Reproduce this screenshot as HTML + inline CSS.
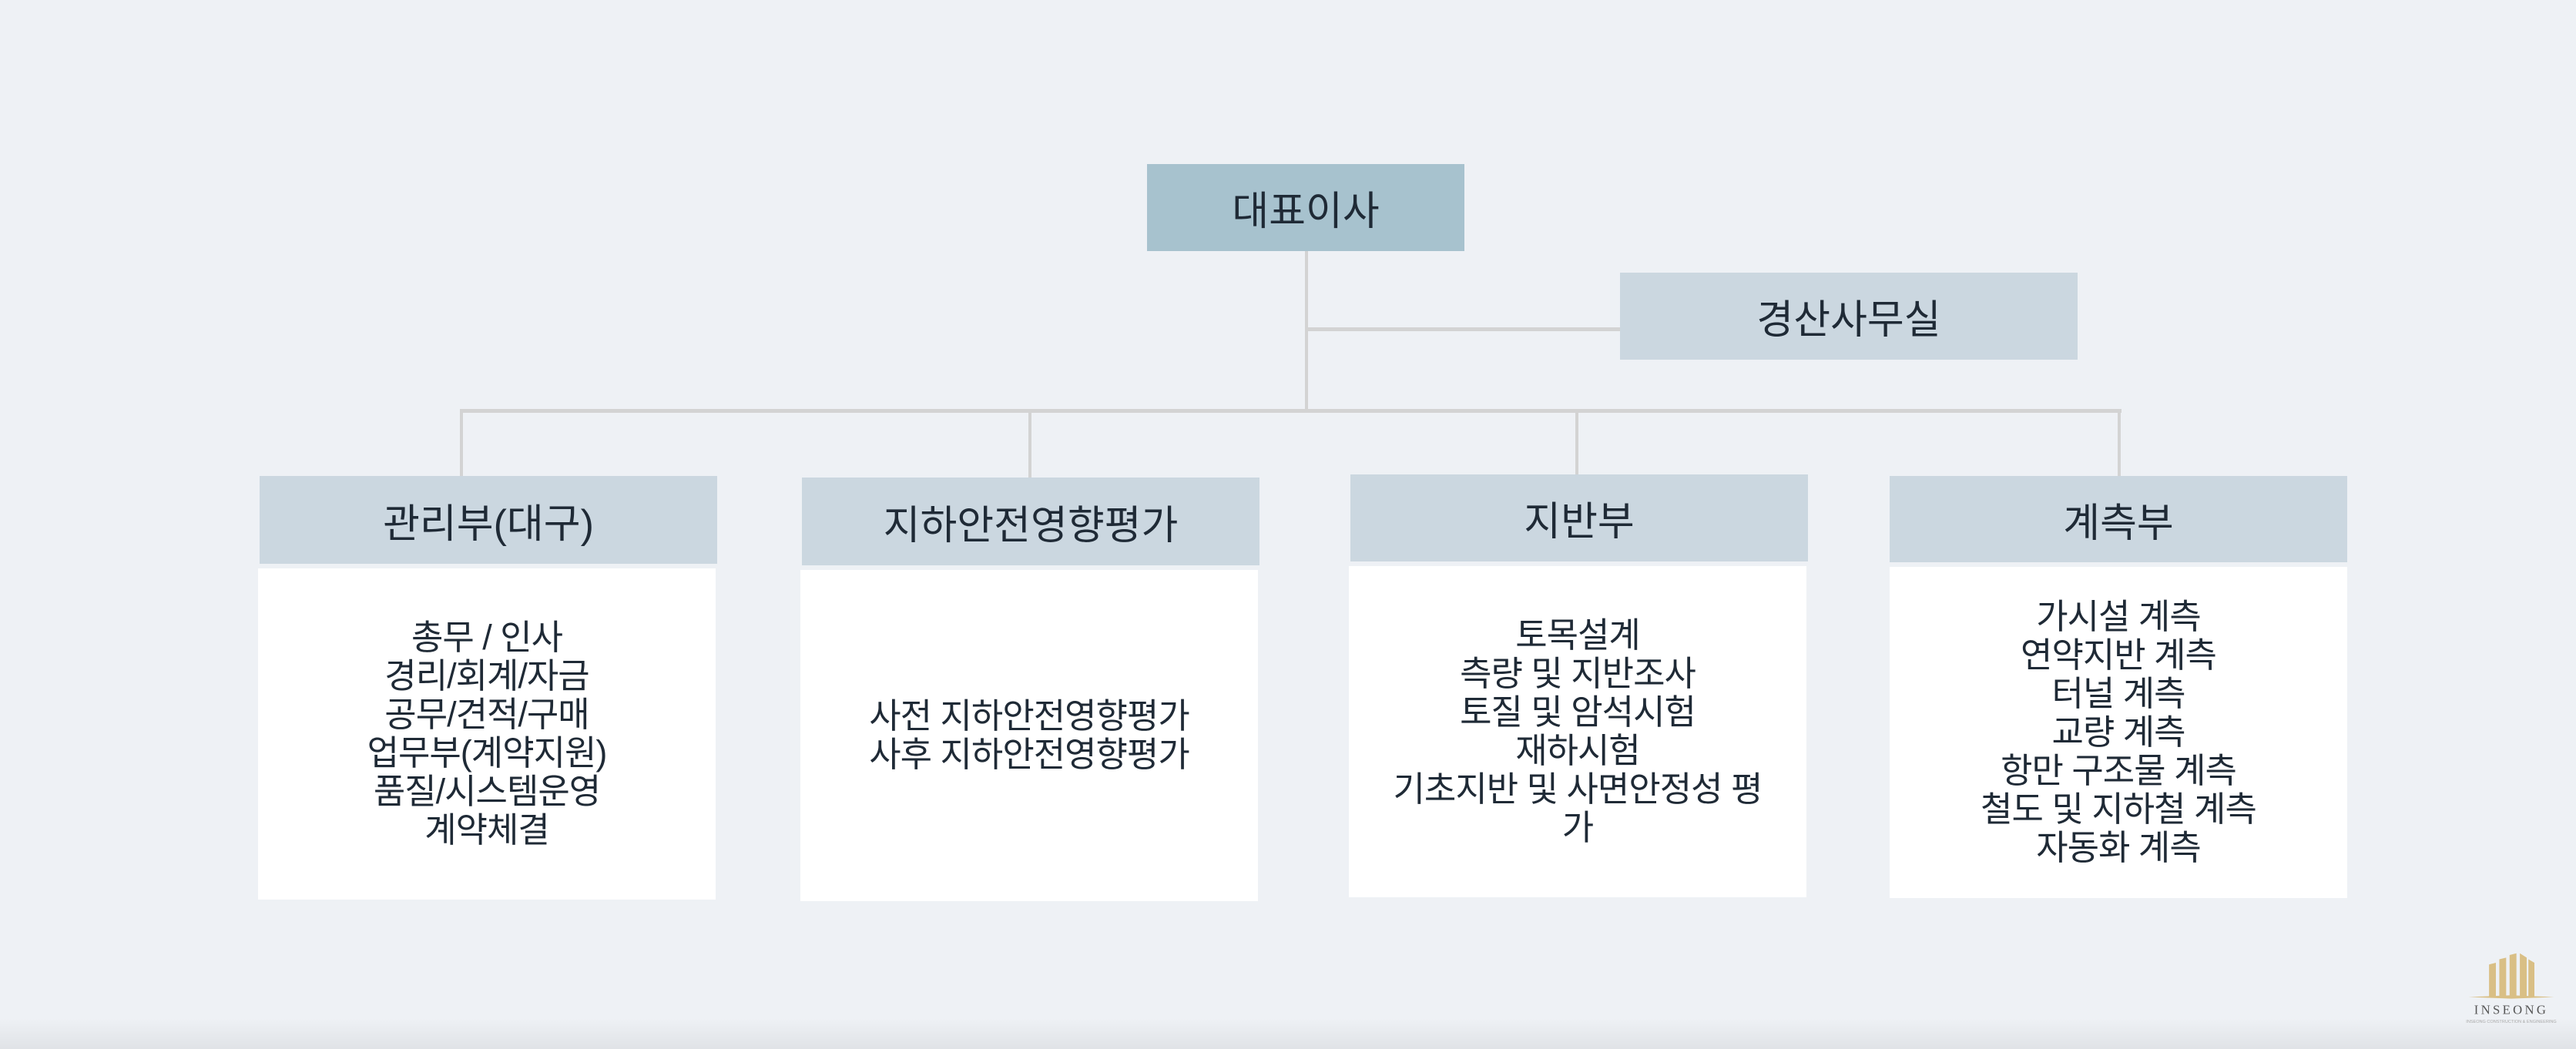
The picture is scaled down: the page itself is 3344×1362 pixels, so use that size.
<!DOCTYPE html>
<html><head><meta charset="utf-8"><style>
html,body{margin:0;padding:0}
body{width:3344px;height:1362px;background:#eef1f5;position:relative;overflow:hidden;font-family:"Liberation Sans","Noto Sans CJK KR","NanumGothic",sans-serif;color:#1f2a36}
.b{position:absolute;display:flex;align-items:center;justify-content:center;text-align:center}
.h{background:#cbd7e0;font-size:52px}
.c{background:#fff;font-size:45px;line-height:50px;flex-direction:column;letter-spacing:-1px}
.l{position:absolute;background:#d3d3d3}
.sh{position:absolute;left:0;right:0;bottom:0;height:40px;background:linear-gradient(to bottom,rgba(0,0,0,0),rgba(0,0,0,0.06))}
</style></head><body>
<div class="l" style="left:1694px;top:326px;width:4px;height:205px"></div>
<div class="l" style="left:1696px;top:425px;width:408px;height:5px"></div>
<div class="l" style="left:597px;top:531px;width:2157px;height:5px"></div>
<div class="l" style="left:597px;top:531px;width:4px;height:88px"></div>
<div class="l" style="left:1335px;top:531px;width:4px;height:90px"></div>
<div class="l" style="left:2045px;top:531px;width:4px;height:86px"></div>
<div class="l" style="left:2749px;top:531px;width:4px;height:88px"></div>

<div class="b h" style="left:1489px;top:213px;width:412px;height:113px;background:#a7c2ce">대표이사</div>
<div class="b h" style="left:2103px;top:354px;width:594px;height:113px">경산사무실</div>

<div class="b h" style="left:337px;top:618px;width:594px;height:114px">관리부(대구)</div>
<div class="b h" style="left:1041px;top:620px;width:594px;height:114px">지하안전영향평가</div>
<div class="b h" style="left:1753px;top:616px;width:594px;height:113px">지반부</div>
<div class="b h" style="left:2453px;top:618px;width:594px;height:112px">계측부</div>

<div class="b c" style="left:335px;top:738px;width:594px;height:430px"><div>총무 / 인사<br>경리/회계/자금<br>공무/견적/구매<br>업무부(계약지원)<br>품질/시스템운영<br>계약체결</div></div>
<div class="b c" style="left:1039px;top:740px;width:594px;height:430px"><div>사전 지하안전영향평가<br>사후 지하안전영향평가</div></div>
<div class="b c" style="left:1751px;top:735px;width:594px;height:430px"><div>토목설계<br>측량 및 지반조사<br>토질 및 암석시험<br>재하시험<br>기초지반 및 사면안정성 평<br>가</div></div>
<div class="b c" style="left:2453px;top:736px;width:594px;height:430px"><div>가시설 계측<br>연약지반 계측<br>터널 계측<br>교량 계측<br>항만 구조물 계측<br>철도 및 지하철 계측<br>자동화 계측</div></div>

<svg style="position:absolute;left:3180px;top:1230px" width="160" height="100" viewBox="0 0 140 90">
<g fill="#d9bf85"><polygon points="44,20 52,18 52,58 44,58"/><polygon points="56,14 64,12 64,58 56,58"/><polygon points="68,9 76,7 76,58 68,58"/><polygon points="80,7 88,12 88,58 80,58"/><polygon points="90,14 97,18 97,58 90,58"/><polygon points="20,58 70,56 120,58 70,60"/></g>
<text x="70" y="78" text-anchor="middle" font-family="Liberation Serif,serif" font-size="15" letter-spacing="3" fill="#555">INSEONG</text>
<text x="70" y="88" text-anchor="middle" font-family="Liberation Sans,sans-serif" font-size="5" fill="#aaa">INSEONG CONSTRUCTION &amp; ENGINEERING</text>
</svg>
<div class="sh"></div>
</body></html>
